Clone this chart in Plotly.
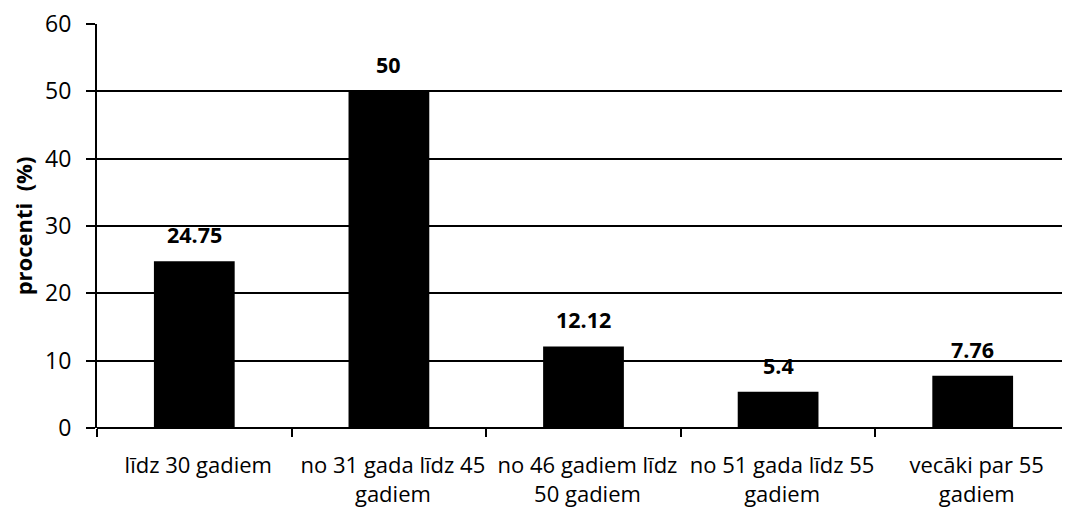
import plotly.graph_objects as go

categories = ["līdz 30 gadiem", "no 31 gada līdz 45<br>gadiem", "no 46 gadiem līdz<br>50 gadiem",
              "no 51 gada līdz 55<br>gadiem", "vecāki par 55<br>gadiem"]
values = [24.75, 50, 12.12, 5.4, 7.76]
value_labels = ["24.75", "50", "12.12", "5.4", "7.76"]
y_ticks = [0, 10, 20, 30, 40, 50, 60]

FONT = "Open Sans"

fig = go.Figure()
fig.add_trace(go.Bar(x=categories, y=values, marker=dict(color="black", line=dict(width=0)),
                     width=0.415, showlegend=False))

for c, v, t in zip(categories, values, value_labels):
    fig.add_annotation(x=c, y=v, text="<b>" + t + "</b>", showarrow=False, yanchor="bottom",
                       yshift=10, font=dict(family=FONT, size=21.5, color="black"))

fig.update_layout(
    width=1062, height=502,
    margin=dict(l=89, r=0, t=16, b=82, autoexpand=False),
    plot_bgcolor="white", paper_bgcolor="white",
)
fig.update_xaxes(
    type="category", tickson="boundaries", ticks="outside", ticklen=8, tickwidth=1.5,
    tickcolor="black", showgrid=False, showline=False, autotickangles=[0],
    ticklabelstandoff=22, ticklabelshift=4, ticklabeloverflow="allow",
    tickfont=dict(family=FONT, size=22, color="black"), automargin=False,
)
fig.update_yaxes(
    range=[0, 60], tickvals=y_ticks, ticks="outside", ticklen=9, tickwidth=2, tickcolor="black",
    showgrid=True, gridcolor="black", gridwidth=2, zeroline=True, zerolinecolor="black", zerolinewidth=2,
    showline=True, linecolor="black", linewidth=2, ticklabelstandoff=10, ticklabeloverflow="allow",
    tickfont=dict(family=FONT, size=23, color="black"), automargin=False,
    title=dict(text="<b>procenti  (%)</b>", font=dict(family=FONT, size=22, color="black"), standoff=8),
)
fig.write_html("out.html")
